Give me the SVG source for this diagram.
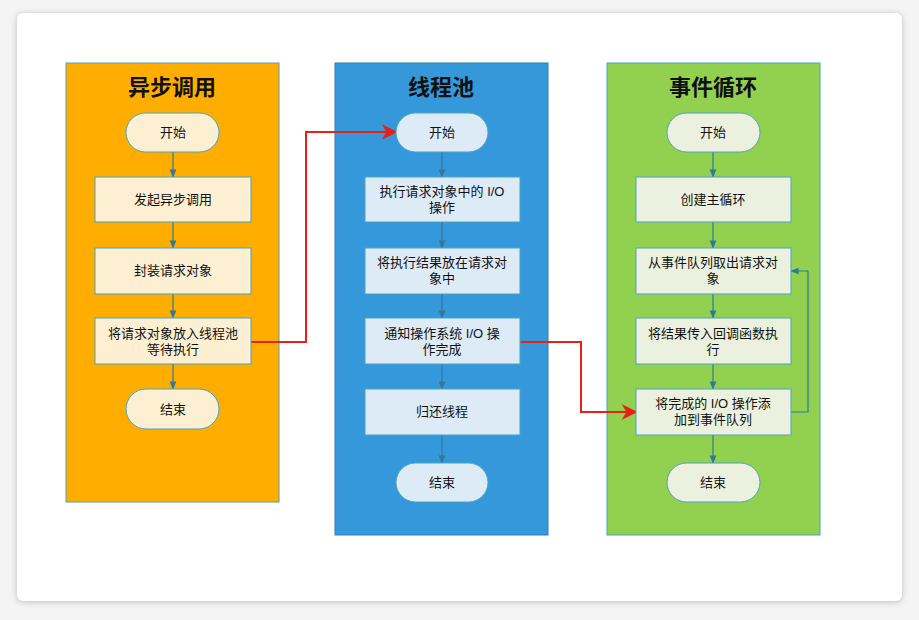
<svg xmlns="http://www.w3.org/2000/svg" width="919" height="620" viewBox="0 0 919 620">
<defs>
<marker id="a" viewBox="0 0 10 10" refX="9" refY="5" markerWidth="7" markerHeight="7" orient="auto"><path d="M0,1 L10,5 L0,9 z" fill="#31789C"/></marker>
<marker id="r" viewBox="0 0 10 10" refX="9" refY="5" markerWidth="8" markerHeight="8" orient="auto"><path d="M0,0 L10,5 L0,10 L3,5 z" fill="#E8201A"/></marker>
<filter id="sh" x="-5%" y="-5%" width="110%" height="110%"><feGaussianBlur stdDeviation="3"/></filter>
</defs>
<style>
text{font-family:"Liberation Sans","Noto Sans CJK SC",sans-serif;text-anchor:middle;fill:#111}
.t{font-size:22px;font-weight:bold}
.n{font-size:13px}
.b{stroke:#4BA3C3;stroke-width:1}
.l{fill:#FDF0D2}.m{fill:#DDEBF7}.g{fill:#EBF1DE}
.c{stroke:#31789C;stroke-width:1.2;fill:none;marker-end:url(#a)}
.rc{stroke:#E8201A;stroke-width:2;fill:none;marker-end:url(#r)}
</style>
<rect width="919" height="620" fill="#F4F4F4"/>
<rect x="17" y="14" width="885" height="588" rx="6" fill="#999" filter="url(#sh)" opacity="0.6"/>
<rect x="17" y="13" width="885" height="588" rx="6" fill="#fff"/>
<g id="col1">
<rect x="66" y="63" width="213" height="439" fill="#FFAE00" stroke="#5B9BAF"/>
<text class="t" x="172" y="95">异步调用</text>
</g>
<g id="col2">
<rect x="335" y="63" width="213" height="472" fill="#3498DB" stroke="#2F7FB5"/>
<text class="t" x="441" y="95">线程池</text>
</g>
<g id="col3">
<rect x="607" y="63" width="213" height="472" fill="#92D050" stroke="#4BA3C3"/>
<text class="t" x="713" y="95">事件循环</text>
</g>
<g id="connectors">
<path class="c" d="M173,152 V177"/><path class="c" d="M173,222 V248"/><path class="c" d="M173,294 V318"/><path class="c" d="M173,364 V389"/>
<path class="c" d="M442,152 V177"/><path class="c" d="M442,222 V248"/><path class="c" d="M442,294 V318"/><path class="c" d="M442,364 V389"/><path class="c" d="M442,435 V463"/>
<path class="c" d="M713,152 V177"/><path class="c" d="M713,222 V248"/><path class="c" d="M713,294 V318"/><path class="c" d="M713,364 V389"/><path class="c" d="M713,435 V463"/>
<path class="c" d="M791,412 H808 V271 H791"/>
<path class="rc" d="M251,342 H306 V132 H396"/>
<path class="rc" d="M520,342 H581 V412 H636"/>
</g>
<g id="l1"><rect class="b l" x="126" y="113" width="93" height="39" rx="19.5"/><text class="n" x="173" y="137">开始</text></g>
<g id="l2"><rect class="b l" x="95" y="177" width="156" height="45"/><text class="n" x="173" y="204">发起异步调用</text></g>
<g id="l3"><rect class="b l" x="95" y="248" width="156" height="46"/><text class="n" x="173" y="275">封装请求对象</text></g>
<g id="l4"><rect class="b l" x="95" y="318" width="156" height="46"/><text class="n" x="173" y="338">将请求对象放入线程池</text><text class="n" x="173" y="354">等待执行</text></g>
<g id="l5"><rect class="b l" x="126" y="389" width="93" height="40" rx="20"/><text class="n" x="173" y="414">结束</text></g>
<g id="m1"><rect class="b m" x="396" y="113" width="92" height="39" rx="19.5"/><text class="n" x="442" y="137">开始</text></g>
<g id="m2"><rect class="b m" x="365" y="177" width="155" height="45"/><text class="n" x="442" y="196">执行请求对象中的 I/O</text><text class="n" x="442" y="212">操作</text></g>
<g id="m3"><rect class="b m" x="365" y="248" width="155" height="46"/><text class="n" x="442" y="267">将执行结果放在请求对</text><text class="n" x="442" y="283">象中</text></g>
<g id="m4"><rect class="b m" x="365" y="318" width="155" height="46"/><text class="n" x="442" y="338">通知操作系统 I/O 操</text><text class="n" x="442" y="354">作完成</text></g>
<g id="m5"><rect class="b m" x="365" y="389" width="155" height="46"/><text class="n" x="442" y="416">归还线程</text></g>
<g id="m6"><rect class="b m" x="396" y="463" width="92" height="39" rx="19.5"/><text class="n" x="442" y="487">结束</text></g>
<g id="r1"><rect class="b g" x="667" y="113" width="93" height="39" rx="19.5"/><text class="n" x="713" y="137">开始</text></g>
<g id="r2"><rect class="b g" x="636" y="177" width="155" height="45"/><text class="n" x="713" y="204">创建主循环</text></g>
<g id="r3"><rect class="b g" x="636" y="248" width="155" height="46"/><text class="n" x="713" y="267">从事件队列取出请求对</text><text class="n" x="713" y="283">象</text></g>
<g id="r4"><rect class="b g" x="636" y="318" width="155" height="46"/><text class="n" x="713" y="338">将结果传入回调函数执</text><text class="n" x="713" y="354">行</text></g>
<g id="r5"><rect class="b g" x="636" y="389" width="155" height="46"/><text class="n" x="713" y="408">将完成的 I/O 操作添</text><text class="n" x="713" y="424">加到事件队列</text></g>
<g id="r6"><rect class="b g" x="667" y="463" width="93" height="39" rx="19.5"/><text class="n" x="713" y="487">结束</text></g>
</svg>
